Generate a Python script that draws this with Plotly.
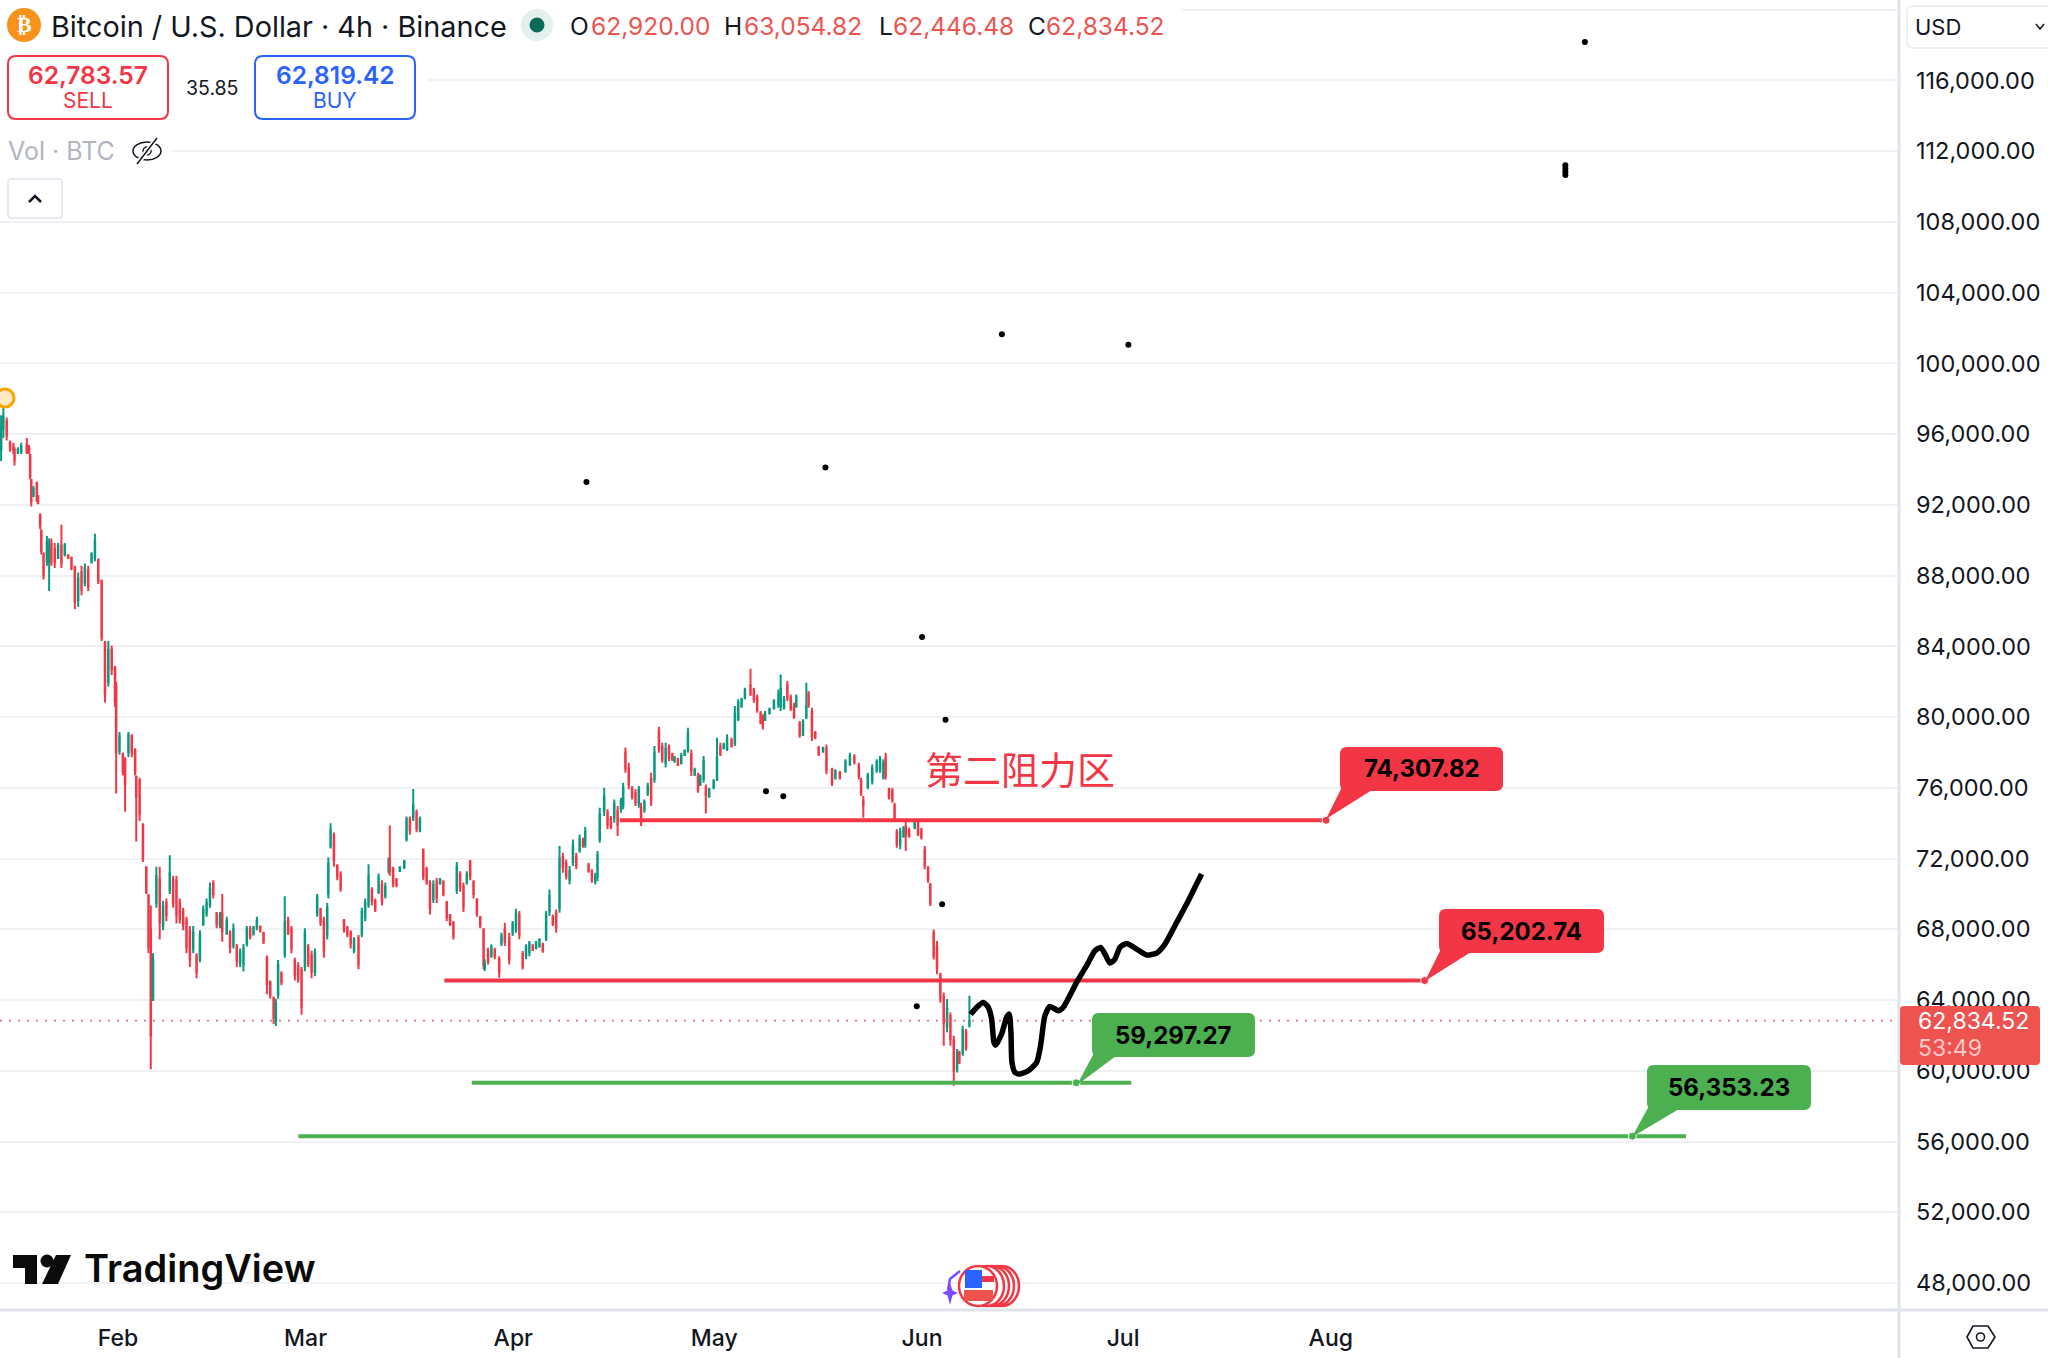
import numpy as np
import pandas as pd
import plotly.graph_objects as go

# ---- data: 4h bar number after the first visible bar, and OHLC in USD
start_time = "2026-01-14 09:36"
bar_no = [1,3,6,9,12,13,16,19,24,26,27,28,30,33,34,36,37,39,42,44,46,49,52,55,58,61,64,67,70,73,76,79,82,85,88,91,94,97,100,103,
104,107,110,112,115,118,121,122,125,128,131,133,135,137,140,143,146,149,152,155,158,161,164,167,170,173,176,179,182,185,188,191,194,197,199,203,206,209,212,215,
218,221,224,227,230,233,236,239,242,245,247,249,252,255,258,261,264,267,270,273,276,279,282,284,287,290,293,294,296,299,302,305,308,311,314,317,321,324,327,330,
333,336,339,342,345,348,349,352,355,358,362,364,367,370,373,376,379,382,385,388,391,394,397,400,403,406,409,412,415,418,421,424,427,430,433,
434,437,440,443,447,449,452,456,459,462,465,468,471,474,477,480,483,486,489,492,495,498,501,504,507,510,513,516,519,522,524,527,530,533,535,537,541,544,547,550,
553,556,558,560,563,566,569,572,574,577,580,583,586,590,593,596,599,602,604,607,610,613,616,619,622,625,627,630,632,635,639,642,645,648,651,655,658,661,664,667,
672,675,678,681,683,685,689,693,697,699,702,705,708,711,713,716,719,722,724,727,730,733,737,740,745,748,752,757,761,765,769,771,773,777,781,785,788,791,793,796,
799,801,803,806,809,811,814,819,822,825,828,831,833,836,839,842,845,848,851,854,857,859,862,865,868]

opens = [95100,96300,96700,95500,95300,95100,94950,95000,95400,95200,94800,93400,92500,93200,92500,91400,90500,89200,88800,88800,89800,89500,89000,89700,89200,89150,89000,88500,86600,88200,87600,88300,88750,89000,88900,87700,84200,82000,83800,82800,
81800,78100,77900,77600,78000,78900,78100,76600,76400,73900,71500,69900,68000,64000,69500,70800,68200,69500,70200,70800,70700,69500,69000,68500,67900,66900,66500,66300,68300,68900,69400,70600,68900,68200,68900,67800,67800,67100,67000,66100,
66000,67200,68000,67700,68100,68150,67800,66400,65000,64100,62800,64300,65500,66600,68500,68000,66200,65900,65700,65900,67000,66500,65600,68900,69100,68500,67700,70000,72700,73300,71600,71100,68500,68100,67800,66800,67500,67700,68700,69400,
70200,69600,70100,70500,69900,71300,72000,71400,70800,71300,71500,73100,74200,74300,74600,73600,72500,71400,70600,69700,70700,70600,70700,69500,68800,68400,70200,71100,70400,70700,71800,70700,69700,68700,68000,
65800,66800,66500,66800,66300,67200,68000,67500,67800,68000,68800,66600,66500,66700,67100,66950,67050,67150,67500,69000,68700,68900,69200,72100,71700,70800,71800,72100,72500,73050,72800,71650,71250,70700,71000,73100,74700,74600,74250,74300,
74700,74800,75000,78000,77100,75950,75700,75100,74900,74750,75700,76500,76500,79200,78300,77400,78300,77900,77500,77600,77400,77850,78100,77900,76750,76700,76200,76500,76000,75500,76000,76500,78300,78250,78200,78700,78500,79900,80600,81100,
81800,81500,81100,80200,80000,79850,80200,80500,80700,80600,80500,81800,81100,80600,80600,79600,79000,80000,81300,80300,79100,78250,78050,78200,77000,76550,76850,76950,77350,77750,77250,76400,75300,76050,76400,77000,77000,76600,77700,75900,
75800,75000,73500,72800,73250,73800,73600,73750,74000,73600,72500,71400,70500,67800,67000,65400,64200,62500,63100,61700,60100,61000,61000,62200,62600]

highs = [97060,97700,96930,95640,95510,95250,95250,95510,95770,95380,94870,93450,93060,93320,92550,91520,90610,89320,90230,90100,90100,89840,89840,90870,89840,89200,89070,88550,88170,88550,88680,88550,89320,90360,88940,87780,84300,84300,84040,82880,
81980,79150,77990,77730,79150,79020,78240,76700,76570,73990,71540,69990,69350,66650,71540,71540,69610,69740,72190,71030,71030,69740,69220,68710,68190,68190,66650,67940,69350,69740,70640,70770,68970,68970,70000,68710,67940,68320,67160,66910,
67160,68190,68190,68190,68710,68190,67810,66520,65100,64200,64070,66260,65620,69870,68710,68190,66390,66130,65870,68060,67160,66780,66910,69990,69220,68710,69480,72060,73990,73470,71670,71280,68580,68190,67940,67550,67680,69220,69740,71670,
70380,69740,71150,70770,70640,72060,73860,71540,70900,71540,71930,74380,74380,75930,74770,74380,72570,71540,70770,70770,70900,70900,70770,69610,68840,68450,71800,71280,70640,71280,71930,70770,69740,68710,68060,
66300,66960,67150,66960,66480,67800,68370,67800,68460,69160,69030,66770,67150,67340,67150,67340,67490,67240,69030,70250,68840,69120,72710,72330,71950,71570,73080,72330,73360,73170,73800,71760,71390,71200,72420,74870,76000,74780,74400,75340,
74970,75440,76290,78270,77420,76100,75910,76100,75150,75340,76290,76850,78360,79450,78550,78550,78450,77980,77790,77700,77980,78170,79400,78170,77130,76850,76760,77790,76190,76000,76480,78830,78550,78550,79020,78830,80620,81000,81090,81660,
82730,81660,81280,80340,80150,80340,80530,81000,81560,82410,81190,82040,81280,80810,81280,79770,79870,81940,81470,80530,79210,78360,78320,78450,77130,77040,76950,77610,77980,77890,77420,76570,75530,76850,77320,77610,77790,77610,77980,76000,
76000,75150,73650,73740,73840,74120,73740,74120,74120,73740,72710,71570,70630,67990,67340,65540,64430,64050,63300,61980,61230,61130,62540,62360,64240]

lows = [94480,95770,95640,95000,94870,94220,94870,94870,94870,94870,93450,91900,92420,92160,92030,90610,89190,87780,88550,87130,88550,88420,88940,88420,89070,88940,88300,86100,86230,86880,87390,87130,88680,88810,87520,84300,80820,81720,82370,80560,
75670,77860,76700,74640,77730,77730,76700,72960,74120,71800,69990,66650,60080,63940,69220,67420,67940,68450,69990,69220,68320,68320,67940,66650,65870,66650,65230,66130,68190,68710,69220,69740,68060,68060,67290,67680,66650,66910,65870,65870,
65610,67030,67420,67680,67940,67810,67160,64330,64070,62650,62530,64070,64840,66390,67680,66650,65100,64970,63170,65620,65870,65230,65360,68710,68190,66390,67420,69740,72570,71540,70770,70120,67810,67550,66910,66650,65740,67550,68450,69220,
69350,68970,69990,69350,69740,71150,71030,70380,70380,71280,71410,72960,73350,74120,73480,73480,70770,70510,68840,69480,69480,70510,69870,68450,68190,67420,69990,70120,68970,70510,70770,69740,68710,68060,65740,
65640,66010,66390,66300,65260,67050,67050,66010,67620,67800,67430,65730,66300,66480,66770,66860,66960,66670,67340,68750,68180,67800,68940,71200,70820,70530,71570,71390,72330,72610,72610,71200,70630,70530,70730,72890,74400,73650,73650,74020,
73270,74590,74780,76850,75910,75340,74970,74870,73840,74590,75530,74970,76290,77980,77420,77140,77510,77510,77420,77230,77320,77790,77980,76660,76660,75720,76100,76290,74550,75440,75910,76380,77790,78170,78080,78270,78360,79770,80530,81000,
81190,80810,80240,79590,79300,79770,80150,80430,80530,80340,80430,80900,80340,79900,80530,78830,78930,79870,80530,78640,78740,77790,77980,76760,76100,76470,76470,76850,77230,77320,76470,75530,74300,75910,76190,76850,76850,76470,76470,75340,
75150,74120,72610,72520,73170,72420,73170,73650,73270,73080,71390,70630,69310,66290,65450,63850,61410,62170,61410,59150,59900,60380,60850,61130,62450]

closes = [96400,97000,95900,95200,95100,94500,95100,95300,95000,94950,93600,92200,92900,92300,92100,90800,89400,88000,89900,89600,88800,88800,89700,88700,89700,89000,88400,86500,87800,87200,88400,87400,89200,90000,87700,84500,81300,83800,82700,80900,
78000,78900,76900,76200,79000,78000,76900,75500,74500,72000,70100,67000,62000,66300,71000,68400,69300,68800,71200,69500,68800,68600,68200,67000,66300,67800,65600,67700,69100,69500,70300,70000,68300,68800,67900,68500,67000,68000,66200,66700,
66900,68000,67600,68100,68500,67900,67300,64900,64300,63000,63800,66000,65000,68400,67800,66900,65400,65200,63600,67800,66100,65600,66700,69800,68400,66800,69200,71700,73600,71900,71000,70300,68000,67700,67200,67400,66000,69000,69500,71000,
69600,69100,70900,69600,70400,71900,71300,70600,70500,71500,71800,74200,73600,75000,73700,74200,71000,70700,69200,70500,69800,70800,70000,68700,68300,67600,71500,70400,69300,71100,71000,70000,68900,68200,66000,
66100,66200,67000,66500,65600,67600,67300,66300,68300,68900,67700,65900,67000,67200,66850,67250,67400,66800,68800,69900,68300,68100,72000,71500,71000,71300,72700,71600,73100,72750,73500,71300,70800,71000,72200,74500,75500,73900,73800,75100,
73900,75250,76000,77100,76200,75500,75200,75900,74100,75200,76100,75300,78000,78200,77600,78200,77700,77600,77700,77300,77800,78100,79100,77000,77000,75900,76600,77500,75600,75900,76400,77700,77900,78450,78800,78350,80200,80800,81000,81500,
81300,81000,80400,79700,79500,80200,80450,80900,81300,81600,81000,81100,80500,80000,81100,79000,79700,80600,80700,78900,78850,77900,78250,77000,76300,76950,76550,77450,77800,77450,76650,75700,75000,76700,77100,77450,77600,77400,76700,75450,
75300,74300,72800,73500,73700,73300,73300,74000,73400,73200,71600,70800,69500,66500,65800,64100,62700,63500,61800,60000,61000,60500,62300,61300,62834]

forecast_bar = [869.1,874.4,880.4,884.9,887.9,890,891.7,896.8,901.3,903.7,905.2,906.1,908.8,913.2,920.7,928.2,931.7,935.6,940.1,947.6,952,964,972.9,980.4,985.5,989.4,993.8,998.3,1002.8,1008.8,1017.7,1026.7,1035.6,1043.1,1052,1062.5,1071.4,1075.9]
forecast_price = [63186,63580,63864,63580,62922,61602,61451,62074,63016,63205,62168,60471,59906,59812,60000,60471,61414,63110,63638,63393,63582,64995,65938,66786,66975,66598,66089,66315,66975,67201,66880,66541,66654,67163,68200,69425,70556,71122]

dot_dates = ["2026-09-07 22:00","2026-09-05 00:00","2026-09-05 00:00","2026-09-05 00:00","2026-09-05 00:00","2026-06-12 22:00","2026-07-01 19:00","2026-04-11 22:00","2026-05-17 14:00","2026-06-01 00:00","2026-06-04 12:00","2026-05-08 17:00","2026-05-11 07:00","2026-06-04 00:00","2026-05-31 05:00"]
dot_prices = [118170,110650,110830,111010,111190,101640,101050,93290,94110,84530,79850,75800,75520,69410,63640]

level_names = ["74,307.82","65,202.74","59,297.27","56,353.23"]
level_prices = [74160,65100,59320,56300]
level_starts = ["2026-04-16 22:00","2026-03-21 17:00","2026-03-25 19:00","2026-02-27 22:00"]
level_ends = ["2026-07-31 07:00","2026-08-15 00:00","2026-07-02 05:00","2026-09-23 00:00"]
anchor_dates = ["2026-07-31 07:00","2026-08-15 00:00","2026-06-24 00:00","2026-09-15 00:00"]

last_price = 62834.52
month_dates = ["2026-02-01","2026-03-01","2026-04-01","2026-05-01","2026-06-01","2026-07-01","2026-08-01"]
month_labels = ["Feb","Mar","Apr","May","Jun","Jul","Aug"]

RED = "#F23645"; GREEN = "#4CAF50"; TEAL = "#089981"; INK = "#131722"
PW, PH = 1899, 1310
assert len(bar_no) == len(opens) == len(highs) == len(lows) == len(closes)

def times(bars):
    return pd.Timestamp(start_time) + pd.to_timedelta(np.array(bars) * 4.0, unit="h")

def X(p): return p / PW
def Y(p): return 1 - p / PH

fig = go.Figure()
fig.add_trace(go.Candlestick(
    x=times(bar_no), open=opens, high=highs, low=lows, close=closes,
    increasing=dict(line=dict(color=TEAL, width=2), fillcolor=TEAL),
    decreasing=dict(line=dict(color=RED, width=2), fillcolor=RED),
    whiskerwidth=0, showlegend=False, hoverinfo="skip"))

fig.add_trace(go.Scatter(x=[times([0])[0], pd.Timestamp("2026-10-24 19:00")], y=[last_price, last_price],
    mode="lines", line=dict(color="#E0707A", width=1.6, dash="2px,7px"), showlegend=False, hoverinfo="skip"))

for name, price, s, e, a in zip(level_names, level_prices, level_starts, level_ends, anchor_dates):
    color = RED if price > 62000 else GREEN
    fig.add_trace(go.Scatter(x=[s, e], y=[price, price], mode="lines",
        line=dict(color=color, width=4), showlegend=False, hoverinfo="skip"))
    fig.add_trace(go.Scatter(x=[a], y=[price], mode="markers",
        marker=dict(color=color, size=8, line=dict(color="white", width=1)), showlegend=False, hoverinfo="skip"))

fig.add_trace(go.Scatter(x=times(forecast_bar), y=forecast_price, mode="lines",
    line=dict(color="black", width=5.5, shape="spline", smoothing=0.6), showlegend=False, hoverinfo="skip"))
fig.add_trace(go.Scatter(x=dot_dates, y=dot_prices, mode="markers",
    marker=dict(color="black", size=6), showlegend=False, hoverinfo="skip"))

shapes, notes = [], []

def path(d, fill=None, line=None, lw=0):
    shapes.append(dict(type="path", xref="paper", yref="paper", path=d,
        fillcolor=fill or "rgba(0,0,0,0)", line=dict(color=line or "rgba(0,0,0,0)", width=lw), layer="above"))

def P(*pts):
    return " ".join(f"{c} {X(x):.5f},{Y(y):.5f}" for c, x, y in pts)

def round_rect(x0, y0, x1, y1, r, fill=None, line=None, lw=0):
    d = (f"M {X(x0+r):.5f},{Y(y0):.5f} L {X(x1-r):.5f},{Y(y0):.5f} "
         f"Q {X(x1):.5f},{Y(y0):.5f} {X(x1):.5f},{Y(y0+r):.5f} L {X(x1):.5f},{Y(y1-r):.5f} "
         f"Q {X(x1):.5f},{Y(y1):.5f} {X(x1-r):.5f},{Y(y1):.5f} L {X(x0+r):.5f},{Y(y1):.5f} "
         f"Q {X(x0):.5f},{Y(y1):.5f} {X(x0):.5f},{Y(y1-r):.5f} L {X(x0):.5f},{Y(y0+r):.5f} "
         f"Q {X(x0):.5f},{Y(y0):.5f} {X(x0+r):.5f},{Y(y0):.5f} Z")
    path(d, fill, line, lw)

def ellipse(cx, cy, rx, ry, fill=None, line=None, lw=0):
    shapes.append(dict(type="circle", xref="paper", yref="paper", x0=X(cx-rx), x1=X(cx+rx), y0=Y(cy+ry), y1=Y(cy-ry),
        fillcolor=fill or "rgba(0,0,0,0)", line=dict(color=line or "rgba(0,0,0,0)", width=lw), layer="above"))

def rect(x0, y0, x1, y1, fill, line=None, lw=0):
    shapes.append(dict(type="rect", xref="paper", yref="paper", x0=X(x0), x1=X(x1), y0=Y(y1), y1=Y(y0),
        fillcolor=fill, line=dict(color=line or "rgba(0,0,0,0)", width=lw), layer="above"))

def seg(x0, y0, x1, y1, color, lw):
    shapes.append(dict(type="line", xref="paper", yref="paper", x0=X(x0), x1=X(x1), y0=Y(y0), y1=Y(y1),
        line=dict(color=color, width=lw), layer="above"))

def txt(s, x, y, size, color=INK, anchor="left", family="Inter", weight=400):
    notes.append(dict(text=s, xref="paper", yref="paper", x=X(x), y=Y(y), xanchor=anchor, yanchor="middle",
        showarrow=False, font=dict(family=family, size=size, color=color, weight=weight)))

# cover the grid under the legend block
rect(0, 0, 1182, 60, "white")
rect(0, 60, 428, 128, "white")
rect(0, 128, 172, 172, "white")

# axis frame
seg(1899, 0, 1899, 1358, "#E0E3EB", 3)
seg(0, 1310, 2048, 1310, "#E0E3EB", 3)

# USD selector
round_rect(1907, 6, 2060, 48, 6, "white", "#EEEFF2", 2)
txt("USD", 1913, 27, 22)
path(P(("M", 2036, 24), ("L", 2040, 29), ("L", 2044, 24)), None, INK, 1.5)

# live price tag
round_rect(1900, 1006, 2040, 1065, 4, "#EF5350")
txt("62,834.52", 1916, 1021, 23, "white")
txt("53:49", 1916, 1048, 23, "#FFC9C9")

# callouts
boxes = [(1340, 747, 1503, 791, 1326, 819, 1342, 1372),
         (1439, 909, 1604, 953, 1425, 981, 1441, 1471),
         (1092, 1013, 1255, 1057, 1077, 1085, 1094, 1116),
         (1647, 1065, 1811, 1110, 1632, 1137, 1649, 1679)]
for (x0, y0, x1, y1, tx, ty, b0, b1), name, price in zip(boxes, level_names, level_prices):
    color = RED if price > 62000 else GREEN
    round_rect(x0, y0, x1, y1, 7, color)
    path(P(("M", b0, y1 - 4), ("L", tx, ty), ("L", b1, y1 - 1)) + " Z", color)
    txt(name, (x0 + x1) / 2, (y0 + y1) / 2, 24, "black", "center", "Inter", 700)

txt("第二阻力区", 923, 767, 38, RED, "left", "Noto Sans CJK SC")

# header
ellipse(24, 25, 17, 17, "#F7931A")
txt("₿", 24, 25, 22, "white", "center", "DejaVu Sans", 700)
txt("Bitcoin / U.S. Dollar · 4h · Binance", 49, 26, 28.8, INK)
ellipse(537, 25, 16, 16, "#E3F0ED")
ellipse(537, 25, 7.5, 7.5, "#0B6B59")
for head, hx, val, vx in [("O", 568, "62,920.00", 589), ("H", 722, "63,054.82", 742),
                          ("L", 877, "62,446.48", 891), ("C", 1026, "62,834.52", 1044)]:
    txt(head, hx, 26, 24.5, INK)
    txt(val, vx, 26, 24.5, "#EF5350")

round_rect(8, 56, 168, 119, 8, "white", RED, 2)
txt("62,783.57", 88, 75, 24.5, RED, "center", "Inter", 600)
txt("SELL", 88, 101, 21, RED, "center")
txt("35.85", 212, 88, 19.5, INK, "center")
round_rect(255, 56, 415, 119, 8, "white", "#2962FF", 2)
txt("62,819.42", 335, 75, 24.5, "#2962FF", "center", "Inter", 600)
txt("BUY", 335, 101, 21, "#2962FF", "center")

txt("Vol · BTC", 6, 151, 25, "#B2B5BE")
ellipse(147, 151, 14, 9, None, INK, 1.5)
ellipse(147, 151, 4, 4, None, INK, 1.5)
seg(137, 164, 157, 138, "white", 5)
seg(137, 164, 157, 138, INK, 1.5)

round_rect(8, 179, 62, 218, 3, "white", "#E0E3EB", 1.5)
path(P(("M", 29, 202), ("L", 35, 196), ("L", 41, 202)), None, INK, 2.5)

# first-bar marker
ellipse(5, 398, 9, 9, "#FFE9C2", "#F7A600", 3)

# TradingView logo
path(P(("M", 13, 1255), ("L", 37, 1255), ("L", 37, 1284), ("L", 25, 1284), ("L", 25, 1268), ("L", 13, 1268)) + " Z", "#0B0B0B")
ellipse(47, 1261, 6.5, 6.5, "#0B0B0B")
path(P(("M", 56, 1255), ("L", 71, 1255), ("L", 58, 1284), ("L", 42, 1284)) + " Z", "#0B0B0B")
txt("TradingView", 82, 1268, 38, "#0B0B0B", "left", "Inter", 600)

# calendar flag icon
for cx in [1002, 997, 992, 987]:
    ellipse(cx, 1286, 17, 20, "white", RED, 2.5)
ellipse(978, 1286, 19, 20, "white", RED, 2.5)
rect(982, 1276, 994, 1282, RED)
rect(964, 1290, 993, 1301, "#EF5350")
rect(965, 1270, 982, 1288, "#2962FF")
path(P(("M", 960, 1271), ("L", 950, 1279), ("L", 948, 1290)), None, "#7C4DFF", 2.5)
path(P(("M", 950, 1283), ("L", 952.5, 1290.5), ("L", 958, 1293), ("L", 952.5, 1295.5), ("L", 950, 1305), ("L", 947.5, 1295.5), ("L", 942, 1293), ("L", 947.5, 1290.5)) + " Z", "#7C4DFF")

# settings hexagon
path(P(("M", 1967, 1337), ("L", 1973, 1326), ("L", 1988, 1326), ("L", 1995, 1337), ("L", 1988, 1348), ("L", 1973, 1348)) + " Z", None, INK, 1.6)
ellipse(1980.5, 1337, 4, 4, None, INK, 1.6)

fig.update_layout(
    width=2048, height=1358, autosize=False,
    margin=dict(l=0, r=149, t=0, b=48),
    paper_bgcolor="white", plot_bgcolor="white",
    hovermode=False, showlegend=False,
    shapes=shapes, annotations=notes,
    font=dict(family="Inter", color=INK),
    xaxis=dict(type="date", range=["2026-01-14 09:36", "2026-10-24 19:00"], rangeslider=dict(visible=False),
               showgrid=False, zeroline=False, showline=False, ticks="",
               tickmode="array", tickvals=month_dates, ticktext=month_labels,
               tickfont=dict(family="Inter", size=23, color=INK, weight=500), ticklabelstandoff=12),
    yaxis=dict(side="right", range=[46473, 120540], tick0=48000, dtick=4000, tickformat=",.2f",
               showgrid=True, gridcolor="#F0F1F4", gridwidth=2, zeroline=False, showline=False, ticks="",
               tickfont=dict(family="Inter", size=23.5, color=INK), ticklabelstandoff=16),
)

fig.write_html("out.html", config={"displayModeBar": False}, post_script="document.body.style.margin='0';")
